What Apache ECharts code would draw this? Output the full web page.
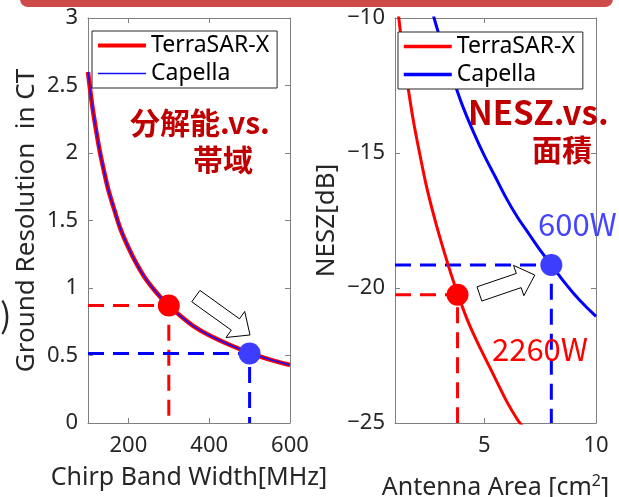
<!DOCTYPE html>
<html><head><meta charset="utf-8">
<script src="https://cdn.jsdelivr.net/npm/echarts@6/dist/echarts.min.js"></script>
<style>html,body{margin:0;padding:0;background:#fff}#c{width:619px;height:497px}</style>
</head><body><div id="c"></div>
<script>
const FONT = "'Noto Sans','Noto Sans CJK JP',sans-serif";
const TXT = '#262626';
const AX = '#808080';

// ---- Left panel: ground resolution vs chirp bandwidth ----
const bandwidthMHz = [100,110,120,130,140,150,165,180,200,220,240,260,280,300,330,360,400,450,500,550,600];
const resTerraSAR  = [2.6,2.36,2.17,2.0,1.86,1.73,1.58,1.44,1.3,1.18,1.08,1.0,0.93,0.87,0.79,0.72,0.65,0.58,0.52,0.47,0.43];
const resCapella   = [2.6,2.36,2.17,2.0,1.86,1.73,1.58,1.44,1.3,1.18,1.08,1.0,0.93,0.87,0.79,0.72,0.65,0.58,0.52,0.47,0.43];
const bwTicks = [200,400,600];
const bwRange = [100,600];
const resRange = [0,3];
const terraPointLeft = [300,0.87];
const capellaPointLeft = [500,0.515];
const arrowLeft = [[367,0.94],[501,0.652]];

// ---- Right panel: NESZ vs antenna area ----
const areaTerra = [1.1,1.17,1.3,1.5,1.8,2.1,2.4,2.7,3.0,3.4,3.8,4.3,4.8,5.4,6.0,6.5,6.7];
const neszTerra = [-9.5,-10.0,-10.9,-12.1,-13.7,-15.0,-16.2,-17.2,-18.1,-19.2,-20.2,-21.3,-22.2,-23.2,-24.2,-24.9,-25.1];
const areaCapella = [2.7,2.75,3.0,3.5,4.0,4.5,5.0,5.5,6.0,6.5,7.0,7.5,8.0,8.5,9.0,9.5,10];
const neszCapella = [-9.8,-10.0,-10.7,-12.0,-13.2,-14.2,-15.1,-15.9,-16.7,-17.4,-18.0,-18.6,-19.15,-19.7,-20.2,-20.65,-21.05];
const areaTicks = [5,10];
const areaRange = [1,10];
const neszRange = [-25,-10];
const terraPointRight = [3.8,-20.25];
const capellaPointRight = [8.0,-19.15];
const arrowRight = [[4.78,-20.22],[7.26,-19.52]];

const zip = (xs, ys) => xs.map((x,i)=>[x,ys[i]]);
const guide = (pt, xMin, yMin) => [[xMin,pt[1]],[pt[0],pt[1]],[pt[0],yMin]];

const chart = echarts.init(document.getElementById('c'), null, {renderer:'canvas'});

function xAx(grid, range, ticks, pos, name, nameGap, extra) {
  return Object.assign({
    type:'value', gridIndex:grid, min:range[0], max:range[1], position:pos,
    axisLine:{show:true, onZero:false, lineStyle:{color:AX, width:1}},
    axisTick:{show:true, inside:true, length:5, customValues:ticks, lineStyle:{color:AX}},
    axisLabel:{show:pos==='bottom', customValues:ticks, color:TXT, fontSize:22, fontFamily:FONT, margin:12},
    splitLine:{show:false},
    name: name || '', nameLocation:'middle', nameGap:nameGap||0,
    nameTextStyle:{color:TXT, fontSize:25, fontFamily:FONT}
  }, extra||{});
}
function yAx(grid, range, interval, pos, name, nameGap, fmt) {
  return {
    type:'value', gridIndex:grid, min:range[0], max:range[1], interval:interval, position:pos,
    axisLine:{show:true, onZero:false, lineStyle:{color:AX, width:1}},
    axisTick:{show:true, inside:true, length:5, lineStyle:{color:AX}},
    axisLabel:{show:pos==='left', color:TXT, fontSize:22, fontFamily:FONT, margin:10, formatter: fmt},
    splitLine:{show:false},
    name: name || '', nameLocation:'middle', nameGap:nameGap||0,
    nameTextStyle:{color:TXT, fontSize:26, fontFamily:FONT}
  };
}
const minusFmt = v => String(v).replace('-', '\u2212');

function lineS(name, xi, yi, data, color, width, z) {
  return {name, type:'line', xAxisIndex:xi, yAxisIndex:yi, data, showSymbol:false, symbol:'none',
    smooth:0.3, lineStyle:{color, width}, itemStyle:{color}, z, clip:true, silent:true};
}
function dashS(xi, yi, data, color) {
  return {name:'_guide', type:'line', xAxisIndex:xi, yAxisIndex:yi, data, symbol:'none',
    lineStyle:{color, width:3, type:[16,9]}, z:1, silent:true};
}
function dotS(xi, yi, pt, color) {
  return {name:'_dot', type:'scatter', xAxisIndex:xi, yAxisIndex:yi, data:[pt], symbolSize:22,
    itemStyle:{color, opacity:1}, z:5, silent:true};
}

const legendBase = {
  orient:'vertical', padding:[3,8,3,4], itemGap:5, itemWidth:48, itemHeight:14,
  borderColor:TXT, borderWidth:1, backgroundColor:'#fff', borderRadius:0,
  itemStyle:{opacity:0},
  textStyle:{color:'#000', fontSize:23, fontFamily:FONT, lineHeight:22}, selectedMode:false
};
const legItem = (name, color, w) => ({name, itemStyle:{opacity:0}, lineStyle:{width:w, color}});

const option = {
  animation:false,
  backgroundColor:'#fff',
  grid:[
    {left:88, top:18, width:202, height:405, outerBoundsMode:'none', containLabel:false},
    {left:395, top:18, width:201, height:405, outerBoundsMode:'none', containLabel:false}
  ],
  xAxis:[
    xAx(0, bwRange, bwTicks, 'bottom', 'Chirp Band Width[MHz]', 42),
    xAx(0, bwRange, bwTicks, 'top'),
    xAx(1, areaRange, areaTicks, 'bottom', 'Antenna Area [cm{sup|2}]', 50,
      {nameTextStyle:{color:TXT, fontSize:25, fontFamily:FONT,
        rich:{sup:{fontSize:16, fontFamily:FONT, color:TXT, padding:[0,0,14,0]}}}}),
    xAx(1, areaRange, areaTicks, 'top')
  ],
  yAxis:[
    yAx(0, resRange, 0.5, 'left', 'Ground Resolution  in CT', 48),
    yAx(0, resRange, 0.5, 'right'),
    yAx(1, neszRange, 5, 'left', 'NESZ[dB]', 55, minusFmt),
    yAx(1, neszRange, 5, 'right')
  ],
  legend:[
    Object.assign({}, legendBase, {left:92, top:31,
      data:[legItem('TerraSAR-X','#ff0000',4), legItem('Capella','#1010ff',1.5)]}),
    Object.assign({}, legendBase, {left:398, top:32,
      data:[legItem('TerraSAR-X','#ff0000',3.5), legItem('Capella','#0000ff',3.5)]})
  ],
  series:[
    dashS(0,0, guide(terraPointLeft, bwRange[0], resRange[0]), '#ff0000'),
    dashS(0,0, guide(capellaPointLeft, bwRange[0], resRange[0]), '#0000ff'),
    lineS('TerraSAR-X', 0,0, zip(bandwidthMHz, resTerraSAR), '#ff0000', 4.5, 2),
    lineS('Capella', 0,0, zip(bandwidthMHz, resCapella), '#1010ff', 1.5, 3),
    dotS(0,0, terraPointLeft, '#ff0000'),
    dotS(0,0, capellaPointLeft, '#3d3dff'),

    dashS(2,2, guide(terraPointRight, areaRange[0], neszRange[0]), '#ff0000'),
    dashS(2,2, guide(capellaPointRight, areaRange[0], neszRange[0]), '#0000ff'),
    lineS('TerraSAR-X', 2,2, zip(areaTerra, neszTerra), '#ff0000', 3, 2),
    lineS('Capella', 2,2, zip(areaCapella, neszCapella), '#0000ff', 3, 2),
    dotS(2,2, terraPointRight, '#ff0000'),
    dotS(2,2, capellaPointRight, '#3d3dff')
  ]
};
chart.setOption(option);

function arrowPts(a, b, sh, hh, hl) {
  const dx=b[0]-a[0], dy=b[1]-a[1], L=Math.hypot(dx,dy);
  const ux=dx/L, uy=dy/L, nx=-uy, ny=ux;
  const bx=b[0]-ux*hl, by=b[1]-uy*hl;
  return [[a[0]+nx*sh,a[1]+ny*sh],[bx+nx*sh,by+ny*sh],[bx+nx*hh,by+ny*hh],[b[0],b[1]],
          [bx-nx*hh,by-ny*hh],[bx-nx*sh,by-ny*sh],[a[0]-nx*sh,a[1]-ny*sh]];
}
const px = (g, p) => chart.convertToPixel({gridIndex:g}, p);
const aL = arrowPts(px(0,arrowLeft[0]), px(0,arrowLeft[1]), 7, 16, 18);
const aR = arrowPts(px(1,arrowRight[0]), px(1,arrowRight[1]), 7.5, 16, 17);

const annoRed = '#c00000';
function txt(text, x, y, size, color, weight) {
  return {type:'text', x, y, z:100, style:{text, fill:color, fontSize:size, fontWeight:weight||'normal',
    fontFamily:"'Noto Sans CJK JP','Noto Sans',sans-serif", textVerticalAlign:'middle', textAlign:'left'}};
}
chart.setOption({graphic:[
  {type:'rect', shape:{x:20, y:-12, width:593, height:19, r:8}, style:{fill:'#cd4b48'}, z:100},
  {type:'polygon', shape:{points:aL}, style:{fill:'#fff', stroke:'#000', lineWidth:1}, z:100},
  {type:'polygon', shape:{points:aR}, style:{fill:'#fff', stroke:'#000', lineWidth:1}, z:100},
  txt('分解能.vs.', 130, 123, 30, annoRed, 'bold'),
  txt('帯域', 193, 160, 30, annoRed, 'bold'),
  txt('NESZ.vs.', 468, 112, 33, annoRed, 'bold'),
  txt('面積', 532, 150, 30, annoRed, 'bold'),
  txt('600W', 538, 224, 31, '#4444ff'),
  txt('2260W', 492, 349, 31, '#ff0000'),
  txt(')', 0, 315, 34, TXT)
]});
</script>
</body></html>
